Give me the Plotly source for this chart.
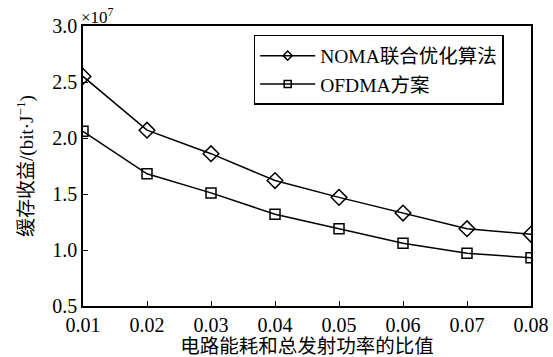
import plotly.graph_objects as go

x_vals = [0.01, 0.02, 0.03, 0.04, 0.05, 0.06, 0.07, 0.08]
noma = [2.55, 2.07, 1.86, 1.62, 1.47, 1.33, 1.19, 1.14]
ofdma = [2.06, 1.68, 1.51, 1.32, 1.19, 1.06, 0.97, 0.93]
series_names = ["NOMA联合优化算法", "OFDMA方案"]
symbols = ["diamond-open", "square-open"]
marker_sizes = [12, 10]

FONT = "Liberation Serif, Times New Roman, Noto Sans CJK SC, serif"

fig = go.Figure()
for name, vals, sym, ms in zip(series_names, [noma, ofdma], symbols, marker_sizes):
    fig.add_trace(go.Scatter(x=x_vals, y=vals, name=name, mode="lines+markers",
                             showlegend=False,
                             line=dict(color="black", width=1.5),
                             marker=dict(symbol=sym, size=ms, color="black", line=dict(width=1.5))))
# legend entries with smaller markers, like the reference
for name, sym in zip(series_names, symbols):
    fig.add_trace(go.Scatter(x=[None], y=[None], name=name, mode="lines+markers",
                             line=dict(color="black", width=1.5),
                             marker=dict(symbol=sym, size=7, color="black", line=dict(width=1.5))))

fig.update_layout(
    width=553, height=357,
    margin=dict(l=83, r=22, t=26, b=51),
    paper_bgcolor="white", plot_bgcolor="white",
    font=dict(family=FONT, size=19, color="black"),
    showlegend=True,
    legend=dict(x=0.381, y=0.968, xanchor="left", yanchor="top",
                bordercolor="black", borderwidth=1.5, bgcolor="white",
                font=dict(family=FONT, size=19.5), tracegroupgap=0,
                itemwidth=55, itemsizing="trace", entrywidth=258),
    xaxis=dict(range=[0.01, 0.08], tickvals=x_vals, tickformat=".2f",
               showline=True, linecolor="black", linewidth=1.5, mirror=True,
               ticks="inside", ticklen=5, tickcolor="black", showgrid=False, zeroline=False,
               automargin=False,
               title=dict(text="电路能耗和总发射功率的比值", standoff=0,
                          font=dict(family=FONT, size=19.5)),
               tickfont=dict(family=FONT, size=20)),
    yaxis=dict(range=[0.5, 3.0], tickvals=[0.5, 1.0, 1.5, 2.0, 2.5, 3.0], tickformat=".1f",
               showline=True, linecolor="black", linewidth=1.5, mirror=True,
               ticks="inside", ticklen=5, tickcolor="black", showgrid=False, zeroline=False,
               automargin=False,
               title=dict(text="缓存收益/(bit·J<sup>−1</sup>)", standoff=14,
                          font=dict(family=FONT, size=19)),
               tickfont=dict(family=FONT, size=20)),
    annotations=[dict(text="×10<sup>7</sup>", x=0, y=1, xref="paper", yref="paper",
                      xanchor="left", yanchor="bottom", showarrow=False,
                      font=dict(family=FONT, size=17), xshift=-4, yshift=-3)],
)

fig.write_html("out.html")
